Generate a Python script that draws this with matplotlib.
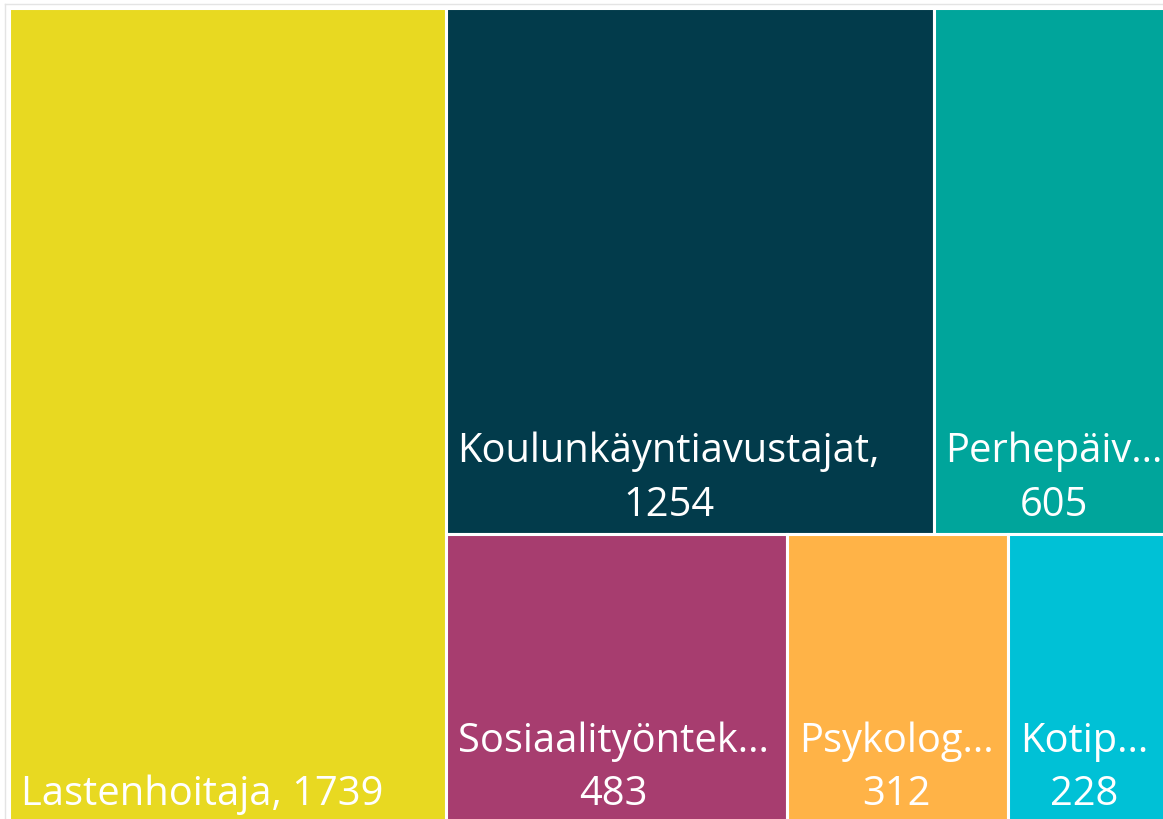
import matplotlib
matplotlib.use("Agg")
import matplotlib.pyplot as plt
from matplotlib.patches import Rectangle
from matplotlib.lines import Line2D

# Data
labels = ["Lastenhoitaja, 1739", "Koulunkäyntiavustajat,\n1254", "Perhepäiv...\n605",
          "Sosiaalityöntek...\n483", "Psykolog...\n312", "Kotip...\n228"]
values = [1739, 1254, 605, 483, 312, 228]
colors = ["#E8D921", "#023B4B", "#00A59B", "#A73D6F", "#FFB347", "#00C1D6"]

# layout groups: first column, then a top row and a bottom row in the rest
first_col = [0]
top_row = [1, 2]
bottom_row = [3, 4, 5]

W, H = 1160.0, 815.0   # plot area in pixels

fig = plt.figure(figsize=(11.63, 8.2), dpi=100)
ax = fig.add_axes([9 / 1163, -4 / 820, W / 1163, H / 820])
ax.set_xlim(0, W)
ax.set_ylim(H, 0)
ax.axis("off")

# light frame line at top / left
fig.add_artist(Line2D([5 / 1163, 5 / 1163], [0, 815 / 820], color="#E4E4E4", lw=1))
fig.add_artist(Line2D([5 / 1163, 1], [815 / 820, 815 / 820], color="#E4E4E4", lw=1))

total = sum(values)
boxes = {}
w0 = W * sum(values[i] for i in first_col) / total
boxes[0] = (0, 0, w0, H)
rest = sum(values[i] for i in top_row + bottom_row)
rw = W - w0
h_top = H * sum(values[i] for i in top_row) / rest
x = w0
for i in top_row:
    w = rw * values[i] / sum(values[j] for j in top_row)
    boxes[i] = (x, 0, w, h_top)
    x += w
x = w0
for i in bottom_row:
    w = rw * values[i] / sum(values[j] for j in bottom_row)
    boxes[i] = (x, h_top, w, H - h_top)
    x += w

for i in range(len(values)):
    bx, by, bw, bh = boxes[i]
    ax.add_patch(Rectangle((bx, by), bw, bh, facecolor=colors[i],
                           edgecolor="white", linewidth=2.2))
    ax.text(bx + 12, by + bh - 9, labels[i], color="white", fontsize=28.7,
            family="Open Sans", ha="left", va="bottom", multialignment="center",
            linespacing=1.42)

fig.savefig("out.png", dpi=100)
